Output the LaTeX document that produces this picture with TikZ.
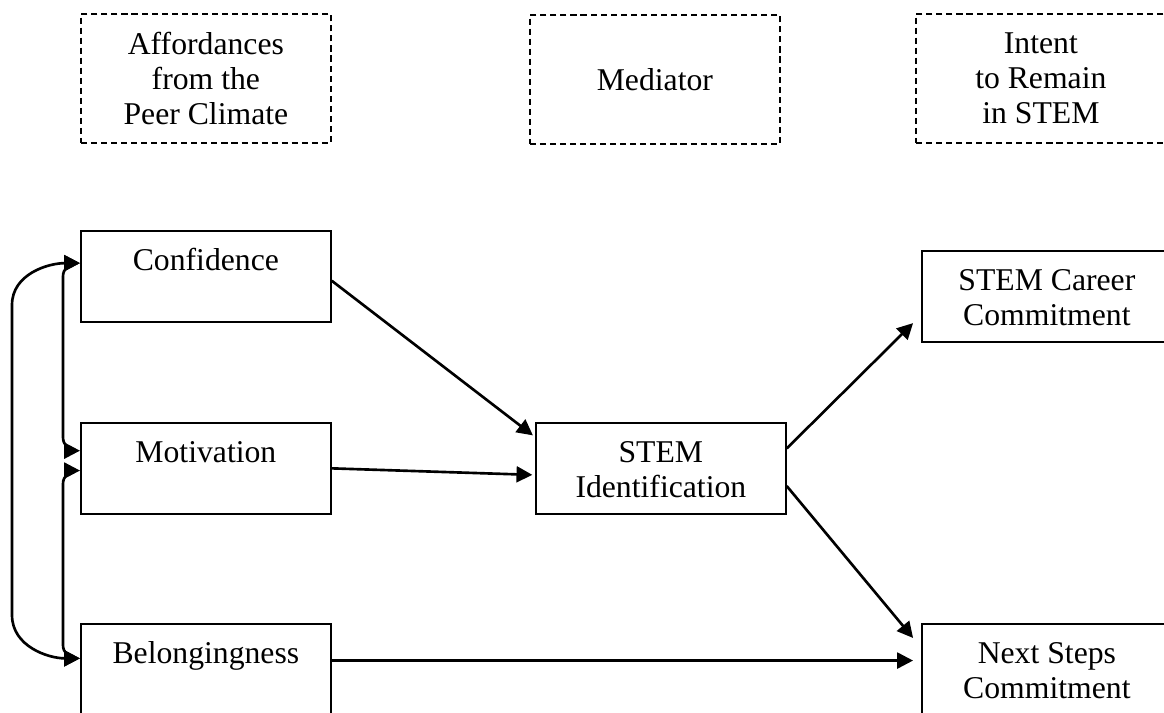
\documentclass[tikz,border=0pt]{standalone}
\usepackage{fontspec}
\setmainfont{Liberation Serif}
\usetikzlibrary{arrows.meta}
\tikzset{>={Triangle[length=6pt,width=6pt]}, every edge/.style={draw,
		->,line width=1pt}, every node/.style={font=\fontsize{12}{13.3}\selectfont}}
\tikzstyle{groupbox}=[rectangle,draw=black,dash pattern=on 2.3pt off 1.5pt,line width=0.7pt,inner sep=0pt,minimum width=3.325cm,minimum height=1.716cm,align=center,anchor=north west]
\tikzstyle{varbox}=[rectangle,draw=black,line width=0.7pt,inner sep=0pt,minimum width=3.325cm,text height=15.1pt,text depth=19.3pt,align=center,anchor=north west]
\tikzstyle{twoline}=[text height=28.4pt,text depth=6pt]
\tikzstyle{covary}=[draw,<->,line width=1pt]

\begin{document}
\begin{tikzpicture}[x=0.0133cm,y=-0.0133cm]
	\useasboundingbox (0,0) rectangle (1164,713);
	\node at (80,13) [groupbox] (aff) {Affordances\\from the\\Peer Climate};
	\node at (529,14) [groupbox] (med) {Mediator};
	\node at (915,13) [groupbox] (intent) {Intent\\to Remain\\in STEM};
	\node at (80,230) [varbox] (conf) {Confidence};
	\node at (80,422) [varbox] (motiv) {Motivation};
	\node at (80,623) [varbox] (belong) {Belongingness};
	\node at (535,422) [varbox,twoline] (stemid) {STEM\\Identification};
	\node at (921,250) [varbox,twoline] (career) {STEM Career\\Commitment};
	\node at (921,623) [varbox,twoline] (nextsteps) {Next Steps\\Commitment};
	\draw (conf.358) edge[shorten >=1pt] (stemid.166);
	\draw (motiv.east) edge[shorten >=1pt] (stemid.183);
	\draw (stemid.9) edge ([xshift=-3pt]career.192);
	\draw (stemid.352) edge ([xshift=-3pt]nextsteps.166);
	\draw (belong.4) edge[shorten >=3pt] (belong.4 -| nextsteps.west);
	\draw[covary,rounded corners=5pt] (conf.174) -| (63,360) |- (motiv.172);
	\draw[covary,rounded corners=5pt] (motiv.181) -| (63,560) |- (belong.175);
	\draw[covary] (conf.174) to[out=180,in=90] (12,305) -- (12,615) to[out=-90,in=180] (belong.175);
\end{tikzpicture}
\end{document}
